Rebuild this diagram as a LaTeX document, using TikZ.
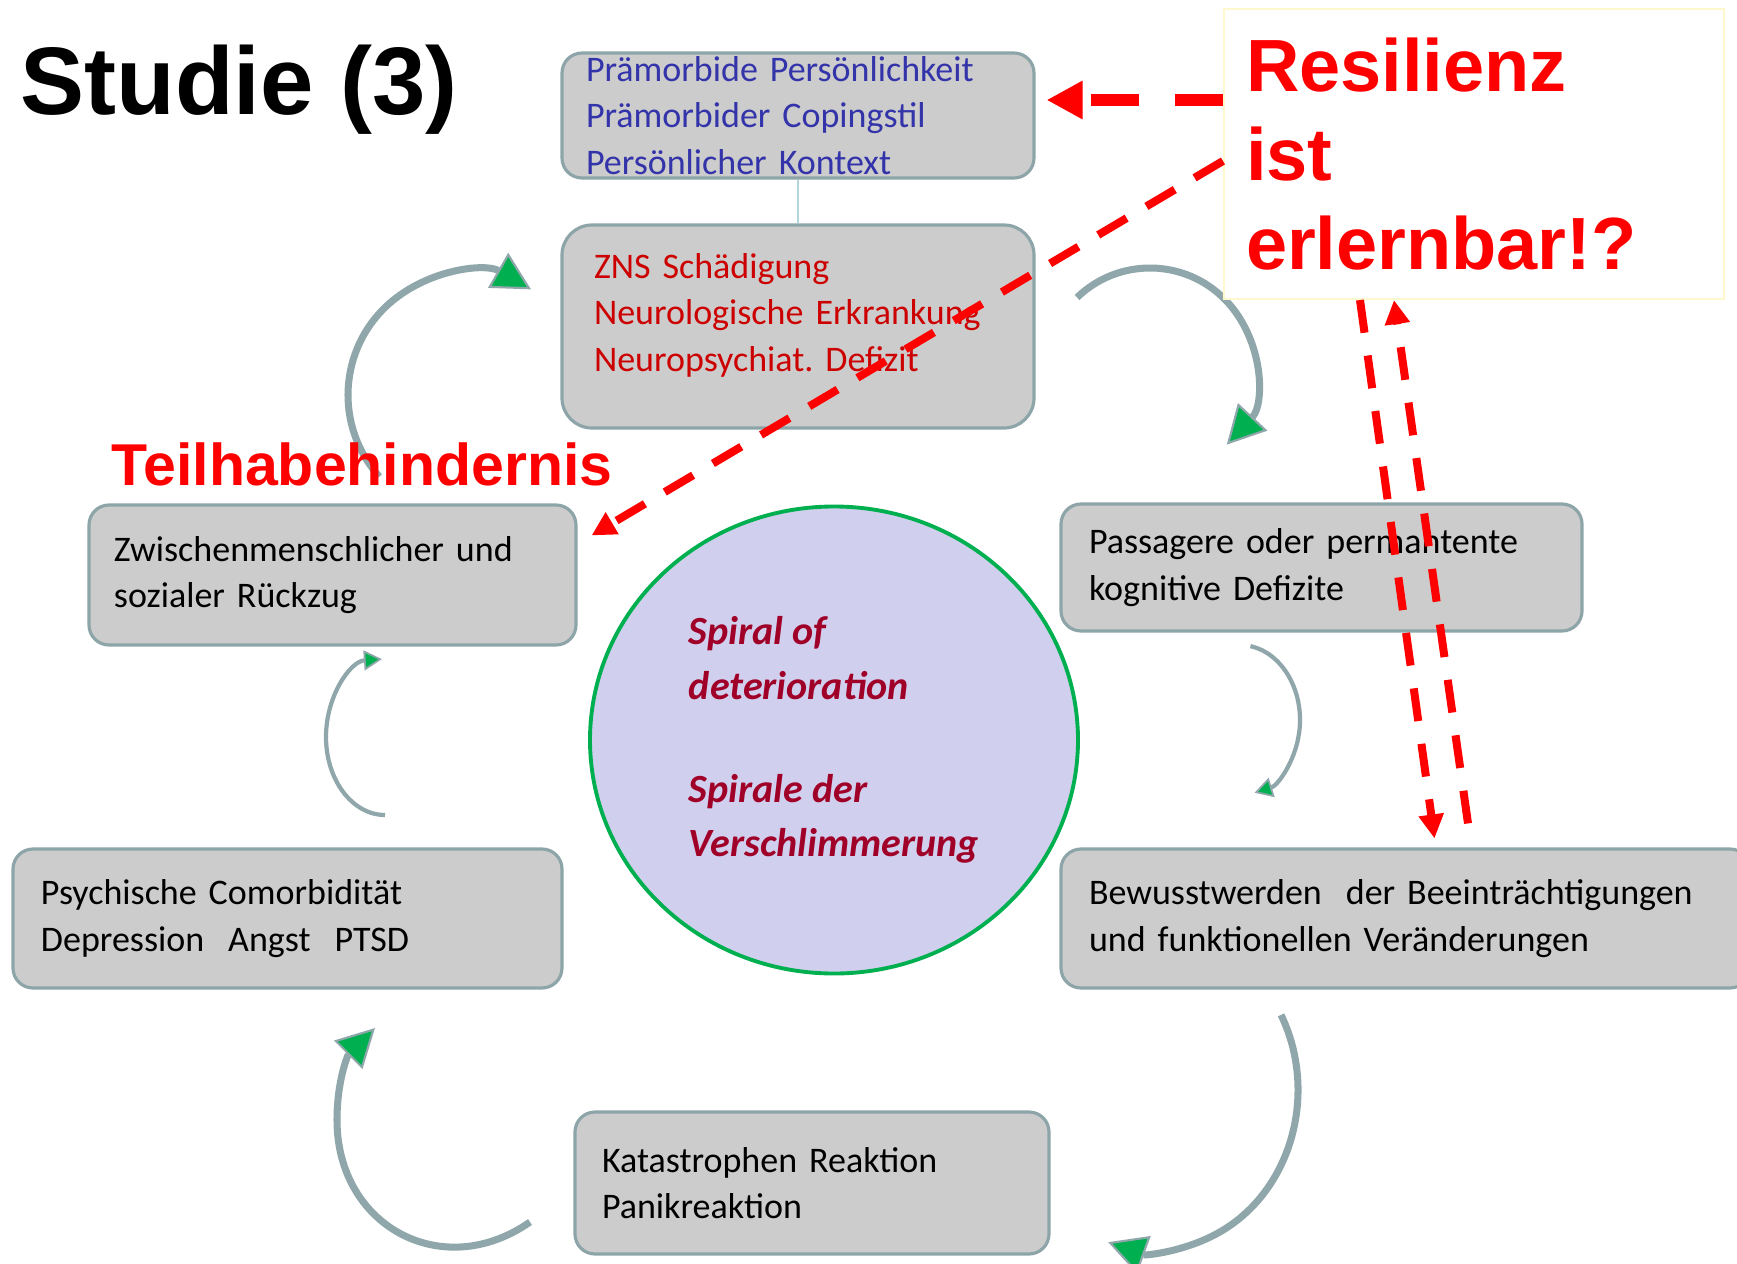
\documentclass[tikz,border=0pt]{standalone}
\usepackage{fontspec}
\setmainfont{Carlito}
\newfontfamily\headfont{Liberation Sans}
\usepackage{xcolor}
\usetikzlibrary{arrows.meta, positioning, shapes.geometric, calc}
\frenchspacing

\definecolor{boxfill}{RGB}{204,204,204}
\definecolor{boxedge}{RGB}{141,165,169}
\definecolor{loopgray}{RGB}{143,167,171}
\definecolor{loopgreen}{RGB}{0,176,80}
\definecolor{premblue}{RGB}{51,51,170}
\definecolor{cnsred}{RGB}{204,0,0}
\definecolor{spiralfill}{RGB}{208,208,238}
\definecolor{spiraltext}{RGB}{160,0,40}
\definecolor{linkcyan}{RGB}{176,214,220}
\definecolor{noteframe}{RGB}{255,248,205}

\begin{document}
\begin{tikzpicture}[
    stage/.style={rectangle, rounded corners=2mm, draw=boxedge, line width=0.9pt, fill=boxfill, align=left, inner ysep=0pt, font=\fontsize{10.24pt}{13.23pt}\selectfont},
    spiral/.style={ellipse, draw=loopgreen, line width=1.1pt, fill=spiralfill, inner sep=0pt, align=left, text=spiraltext, font=\bfseries\itshape\fontsize{11.4pt}{15.4pt}\selectfont},
    headline/.style={anchor=base west, inner sep=0pt, font=\headfont\bfseries\fontsize{#1}{1.2\dimexpr#1\relax}\selectfont},
    loop/.style={draw=loopgray, line width=2pt, -{Triangle[length=3.8mm, width=4mm, fill=loopgreen, line width=0.6pt]}},
    smallloop/.style={draw=loopgray, line width=1.2pt, -{Triangle[length=1.8mm, width=2mm, fill=loopgreen, line width=0.5pt]}},
    heavydash/.style={draw=red, line width=1.2mm, dash pattern=on 4.8mm off 3.6mm, -{Triangle[length=3.6mm, width=3.6mm]}},
    lightdash/.style={draw=red, line width=0.8mm, dash pattern=on 3.3mm off 2.3mm, -{Triangle[length=2.4mm, width=2.4mm]}},
  ]

  \useasboundingbox (0,0) rectangle (17.37,-12.64);
  \clip (0,0) rectangle (17.37,-12.64);
  \fill[white] (0,0) rectangle (17.37,-12.64);

  \node[headline=27.3pt] (title) at (0.20,-1.14) {Studie (3)};

  \node[stage, text=premblue, minimum width=4.72cm, minimum height=1.25cm, text width=4.24cm, inner xsep=0.24cm] (prem) at (7.98,-1.155) {Prämorbide Persönlichkeit\\Prämorbider Copingstil\\Persönlicher Kontext};
  \node[stage, text=cnsred, rounded corners=3mm, minimum width=4.72cm, minimum height=2.03cm, text width=4.08cm, text depth=1.21cm, inner xsep=0.32cm] (cns) at (7.98,-3.265) {ZNS Schädigung\\Neurologische Erkrankung\\Neuropsychiat. Defizit};
  \node[stage, minimum width=5.21cm, minimum height=1.27cm, text width=4.65cm, inner xsep=0.28cm] (lost) at (13.215,-5.675) {Passagere oder permantente\\kognitive Defizite};
  \node[stage, minimum width=6.89cm, minimum height=1.39cm, text width=6.33cm, inner xsep=0.28cm] (aware) at (14.055,-9.185) {Bewusstwerden\ \ der Beeinträchtigungen\\und funktionellen Veränderungen};
  \node[stage, minimum width=4.74cm, minimum height=1.42cm, text width=4.20cm, inner xsep=0.27cm] (panic) at (8.12,-11.83) {Katastrophen Reaktion\\Panikreaktion};
  \node[stage, minimum width=5.49cm, minimum height=1.39cm, text width=4.93cm, inner xsep=0.28cm] (comorb) at (2.875,-9.185) {Psychische Comorbidität\\Depression\ \ Angst\ \ PTSD};
  \node[stage, minimum width=4.87cm, minimum height=1.40cm, text width=4.37cm, inner xsep=0.25cm] (social) at (3.325,-5.75) {Zwischenmenschlicher und\\sozialer Rückzug};

  \node[spiral, minimum width=4.88cm, minimum height=4.67cm] (spiral) at (8.34,-7.40) {Spiral of\\deterioration\\[14pt]Spirale der\\Verschlimmerung};

  \draw[linkcyan, line width=0.4pt] (prem) -- (cns);

  \coordinate (turnA) at (4.70,-3.95);
  \coordinate (turnB) at (11.50,-3.73);
  \coordinate (turnC) at (12.40,-7.20);
  \coordinate (turnD) at (11.53,-10.90);
  \coordinate (turnF) at (3.85,-7.37);
  \coordinate (startE) at (5.30,-12.22);
  \coordinate (sideE) at (3.37,-11.20);
  \coordinate (tipE) at (3.75,-10.28);

  \draw[loop] ([shift={(222:1.22)}]turnA) arc[start angle=222, end angle=60, radius=1.22];
  \draw[loop] ([shift={(134:1.05)}]turnB) arc[start angle=134, end angle=-43, radius=1.05];
  \draw[smallloop] ([shift={(80:0.60 and 0.75)}]turnC) arc[start angle=80, end angle=-76, x radius=0.60, y radius=0.75];
  \draw[loop] ([shift={(28:1.45 and 1.60)}]turnD) arc[start angle=28, end angle=-108, x radius=1.45, y radius=1.60];
  \draw[loop] (startE) to[out=215, in=270, looseness=1.25] (sideE) to[out=90, in=225] (tipE);
  \draw[smallloop] ([shift={(-90:0.59 and 0.78)}]turnF) arc[start angle=-90, end angle=-267, x radius=0.59, y radius=0.78];

  \node[headline=16.8pt, text=red] (barrier) at (1.11,-4.85) {Teilhabehindernis};

  \node[draw=noteframe, line width=0.6pt, fill=white, minimum width=5cm, minimum height=2.9cm, text width=4.56cm, inner xsep=0.22cm, inner ysep=0pt, align=left, text=red, font=\headfont\bfseries\fontsize{21.05pt}{25.2pt}\selectfont] (resil) at (14.74,-1.54) {Resilienz\\ist\\erlernbar!?};

  \coordinate (toprem) at ([yshift=5.4mm]resil.west);
  \draw[heavydash, shorten >=1.1mm] (toprem) -- (toprem -| prem.east);
  \draw[lightdash] ([yshift=-0.7mm]resil.west) -- ([xshift=1.4mm, yshift=-3.2mm]social.north east);
  \draw[lightdash] ([xshift=-11.4mm]resil.south) -- ([xshift=2.9mm, yshift=0.9mm]aware.north);
  \draw[lightdash] ([xshift=6.25mm, yshift=2.4mm]aware.north) -- ([xshift=-8mm]resil.south);

\end{tikzpicture}
\end{document}
